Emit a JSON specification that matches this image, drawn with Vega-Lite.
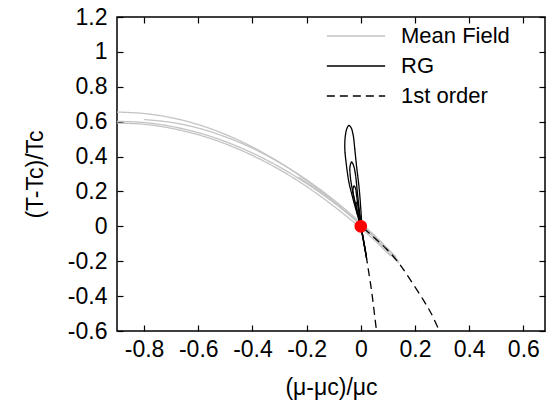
{
  "$schema": "https://vega.github.io/schema/vega-lite/v6.json",
  "width": 428,
  "height": 314,
  "autosize": {"type": "none"},
  "padding": {"left": 117, "top": 17, "right": 1, "bottom": 70},
  "config": {
    "view": {"stroke": "#000000", "strokeWidth": 1.5},
    "font": "Liberation Sans",
    "axis": {
      "grid": false,
      "domain": false,
      "tickColor": "#000000",
      "tickWidth": 1.2,
      "tickSize": -6,
      "labelColor": "#000000",
      "labelFont": "Liberation Sans",
      "labelFontSize": 23,
      "labelFontWeight": "normal",
      "titleFont": "Liberation Sans",
      "titleFontSize": 23,
      "titleFontWeight": "normal",
      "titleColor": "#000000"
    },
    "legend": {
      "orient": "none",
      "legendX": 209,
      "legendY": 4,
      "title": null,
      "symbolType": "stroke",
      "symbolSize": 3400,
      "symbolStrokeWidth": 1.3,
      "clipHeight": 30,
      "labelFont": "Liberation Sans",
      "labelFontSize": 22,
      "labelColor": "#000000",
      "labelOffset": 15,
      "padding": 0,
      "rowPadding": 0
    }
  },
  "datasets": {
    "curves": [
      {"curve": "A", "series": "Mean Field", "i": 0, "x": -0.9, "y": 0.655},
      {"curve": "A", "series": "Mean Field", "i": 1, "x": -0.8, "y": 0.647},
      {"curve": "A", "series": "Mean Field", "i": 2, "x": -0.7, "y": 0.623},
      {"curve": "A", "series": "Mean Field", "i": 3, "x": -0.6, "y": 0.583},
      {"curve": "A", "series": "Mean Field", "i": 4, "x": -0.5, "y": 0.527},
      {"curve": "A", "series": "Mean Field", "i": 5, "x": -0.4, "y": 0.455},
      {"curve": "A", "series": "Mean Field", "i": 6, "x": -0.3, "y": 0.367},
      {"curve": "A", "series": "Mean Field", "i": 7, "x": -0.2, "y": 0.263},
      {"curve": "A", "series": "Mean Field", "i": 8, "x": -0.1, "y": 0.143},
      {"curve": "A", "series": "Mean Field", "i": 9, "x": 0.0, "y": 0.007},
      {"curve": "A", "series": "Mean Field", "i": 10, "x": 0.07, "y": -0.098},
      {"curve": "A", "series": "Mean Field", "i": 11, "x": 0.14, "y": -0.21},
      {"curve": "B", "series": "Mean Field", "i": 0, "x": -0.9, "y": 0.602},
      {"curve": "B", "series": "Mean Field", "i": 1, "x": -0.8, "y": 0.595},
      {"curve": "B", "series": "Mean Field", "i": 2, "x": -0.7, "y": 0.573},
      {"curve": "B", "series": "Mean Field", "i": 3, "x": -0.6, "y": 0.537},
      {"curve": "B", "series": "Mean Field", "i": 4, "x": -0.5, "y": 0.486},
      {"curve": "B", "series": "Mean Field", "i": 5, "x": -0.4, "y": 0.42},
      {"curve": "B", "series": "Mean Field", "i": 6, "x": -0.3, "y": 0.34},
      {"curve": "B", "series": "Mean Field", "i": 7, "x": -0.2, "y": 0.245},
      {"curve": "B", "series": "Mean Field", "i": 8, "x": -0.1, "y": 0.136},
      {"curve": "B", "series": "Mean Field", "i": 9, "x": 0.0, "y": 0.012},
      {"curve": "B", "series": "Mean Field", "i": 10, "x": 0.06, "y": -0.069},
      {"curve": "B", "series": "Mean Field", "i": 11, "x": 0.13, "y": -0.175},
      {"curve": "C", "series": "Mean Field", "i": 0, "x": -0.9, "y": 0.592},
      {"curve": "C", "series": "Mean Field", "i": 1, "x": -0.8, "y": 0.585},
      {"curve": "C", "series": "Mean Field", "i": 2, "x": -0.7, "y": 0.562},
      {"curve": "C", "series": "Mean Field", "i": 3, "x": -0.6, "y": 0.525},
      {"curve": "C", "series": "Mean Field", "i": 4, "x": -0.5, "y": 0.473},
      {"curve": "C", "series": "Mean Field", "i": 5, "x": -0.4, "y": 0.406},
      {"curve": "C", "series": "Mean Field", "i": 6, "x": -0.3, "y": 0.325},
      {"curve": "C", "series": "Mean Field", "i": 7, "x": -0.2, "y": 0.228},
      {"curve": "C", "series": "Mean Field", "i": 8, "x": -0.1, "y": 0.116},
      {"curve": "C", "series": "Mean Field", "i": 9, "x": 0.0, "y": -0.01},
      {"curve": "C", "series": "Mean Field", "i": 10, "x": 0.05, "y": -0.079},
      {"curve": "C", "series": "Mean Field", "i": 11, "x": 0.11, "y": -0.17},
      {"curve": "D", "series": "Mean Field", "i": 0, "x": -0.8, "y": 0.612},
      {"curve": "D", "series": "Mean Field", "i": 1, "x": -0.7, "y": 0.596},
      {"curve": "D", "series": "Mean Field", "i": 2, "x": -0.6, "y": 0.563},
      {"curve": "D", "series": "Mean Field", "i": 3, "x": -0.5, "y": 0.513},
      {"curve": "D", "series": "Mean Field", "i": 4, "x": -0.4, "y": 0.448},
      {"curve": "D", "series": "Mean Field", "i": 5, "x": -0.3, "y": 0.365},
      {"curve": "D", "series": "Mean Field", "i": 6, "x": -0.2, "y": 0.267},
      {"curve": "D", "series": "Mean Field", "i": 7, "x": -0.1, "y": 0.152},
      {"curve": "D", "series": "Mean Field", "i": 8, "x": 0.0, "y": 0.02},
      {"curve": "D", "series": "Mean Field", "i": 9, "x": 0.065, "y": -0.074},
      {"curve": "D", "series": "Mean Field", "i": 10, "x": 0.14, "y": -0.2},
      {"curve": "E", "series": "Mean Field", "i": 0, "x": -0.23, "y": 0.283},
      {"curve": "E", "series": "Mean Field", "i": 1, "x": -0.15, "y": 0.199},
      {"curve": "E", "series": "Mean Field", "i": 2, "x": -0.1, "y": 0.141},
      {"curve": "E", "series": "Mean Field", "i": 3, "x": -0.05, "y": 0.076},
      {"curve": "E", "series": "Mean Field", "i": 4, "x": 0.0, "y": 0.008},
      {"curve": "E", "series": "Mean Field", "i": 5, "x": 0.04, "y": -0.049},
      {"curve": "E", "series": "Mean Field", "i": 6, "x": 0.1, "y": -0.14},
      {"curve": "L1", "series": "RG", "i": 0, "x": 0.021, "y": -0.18},
      {"curve": "L1", "series": "RG", "i": 1, "x": 0.01, "y": -0.08},
      {"curve": "L1", "series": "RG", "i": 2, "x": 0.0, "y": 0.0},
      {"curve": "L1", "series": "RG", "i": 3, "x": -0.015, "y": 0.08},
      {"curve": "L1", "series": "RG", "i": 4, "x": -0.03, "y": 0.165},
      {"curve": "L1", "series": "RG", "i": 5, "x": -0.044, "y": 0.254},
      {"curve": "L1", "series": "RG", "i": 6, "x": -0.053, "y": 0.35},
      {"curve": "L1", "series": "RG", "i": 7, "x": -0.059, "y": 0.445},
      {"curve": "L1", "series": "RG", "i": 8, "x": -0.057, "y": 0.52},
      {"curve": "L1", "series": "RG", "i": 9, "x": -0.051, "y": 0.562},
      {"curve": "L1", "series": "RG", "i": 10, "x": -0.044, "y": 0.578},
      {"curve": "L1", "series": "RG", "i": 11, "x": -0.036, "y": 0.566},
      {"curve": "L1", "series": "RG", "i": 12, "x": -0.028, "y": 0.522},
      {"curve": "L1", "series": "RG", "i": 13, "x": -0.022, "y": 0.44},
      {"curve": "L1", "series": "RG", "i": 14, "x": -0.016, "y": 0.35},
      {"curve": "L1", "series": "RG", "i": 15, "x": -0.006, "y": 0.216},
      {"curve": "L1", "series": "RG", "i": 16, "x": 0.0, "y": 0.1},
      {"curve": "L1", "series": "RG", "i": 17, "x": 0.004, "y": 0.0},
      {"curve": "L2", "series": "RG", "i": 0, "x": 0.02, "y": -0.17},
      {"curve": "L2", "series": "RG", "i": 1, "x": 0.01, "y": -0.08},
      {"curve": "L2", "series": "RG", "i": 2, "x": 0.0, "y": 0.0},
      {"curve": "L2", "series": "RG", "i": 3, "x": -0.015, "y": 0.1},
      {"curve": "L2", "series": "RG", "i": 4, "x": -0.03, "y": 0.2},
      {"curve": "L2", "series": "RG", "i": 5, "x": -0.039, "y": 0.29},
      {"curve": "L2", "series": "RG", "i": 6, "x": -0.04, "y": 0.34},
      {"curve": "L2", "series": "RG", "i": 7, "x": -0.034, "y": 0.369},
      {"curve": "L2", "series": "RG", "i": 8, "x": -0.027, "y": 0.35},
      {"curve": "L2", "series": "RG", "i": 9, "x": -0.02, "y": 0.3},
      {"curve": "L2", "series": "RG", "i": 10, "x": -0.013, "y": 0.2},
      {"curve": "L2", "series": "RG", "i": 11, "x": -0.006, "y": 0.1},
      {"curve": "L2", "series": "RG", "i": 12, "x": 0.002, "y": 0.0},
      {"curve": "L3", "series": "RG", "i": 0, "x": 0.022, "y": -0.19},
      {"curve": "L3", "series": "RG", "i": 1, "x": 0.01, "y": -0.08},
      {"curve": "L3", "series": "RG", "i": 2, "x": 0.0, "y": 0.0},
      {"curve": "L3", "series": "RG", "i": 3, "x": -0.014, "y": 0.08},
      {"curve": "L3", "series": "RG", "i": 4, "x": -0.026, "y": 0.17},
      {"curve": "L3", "series": "RG", "i": 5, "x": -0.029, "y": 0.21},
      {"curve": "L3", "series": "RG", "i": 6, "x": -0.025, "y": 0.232},
      {"curve": "L3", "series": "RG", "i": 7, "x": -0.02, "y": 0.22},
      {"curve": "L3", "series": "RG", "i": 8, "x": -0.015, "y": 0.17},
      {"curve": "L3", "series": "RG", "i": 9, "x": -0.009, "y": 0.1},
      {"curve": "L3", "series": "RG", "i": 10, "x": 0.0, "y": 0.02},
      {"curve": "L4", "series": "RG", "i": 0, "x": 0.019, "y": -0.16},
      {"curve": "L4", "series": "RG", "i": 1, "x": 0.008, "y": -0.07},
      {"curve": "L4", "series": "RG", "i": 2, "x": -0.004, "y": 0.03},
      {"curve": "L4", "series": "RG", "i": 3, "x": -0.015, "y": 0.1},
      {"curve": "L4", "series": "RG", "i": 4, "x": -0.017, "y": 0.13},
      {"curve": "L4", "series": "RG", "i": 5, "x": -0.012, "y": 0.14},
      {"curve": "L4", "series": "RG", "i": 6, "x": -0.008, "y": 0.1},
      {"curve": "L4", "series": "RG", "i": 7, "x": 0.0, "y": 0.02},
      {"curve": "MF1", "series": "1st order", "i": 0, "x": 0.01, "y": -0.01},
      {"curve": "MF1", "series": "1st order", "i": 1, "x": 0.05, "y": -0.065},
      {"curve": "MF1", "series": "1st order", "i": 2, "x": 0.095, "y": -0.13},
      {"curve": "MF1", "series": "1st order", "i": 3, "x": 0.14, "y": -0.21},
      {"curve": "MF1", "series": "1st order", "i": 4, "x": 0.18, "y": -0.3},
      {"curve": "MF1", "series": "1st order", "i": 5, "x": 0.23, "y": -0.42},
      {"curve": "MF1", "series": "1st order", "i": 6, "x": 0.26, "y": -0.5},
      {"curve": "MF1", "series": "1st order", "i": 7, "x": 0.29, "y": -0.6},
      {"curve": "RG1", "series": "1st order", "i": 0, "x": 0.003, "y": -0.02},
      {"curve": "RG1", "series": "1st order", "i": 1, "x": 0.012, "y": -0.1},
      {"curve": "RG1", "series": "1st order", "i": 2, "x": 0.021, "y": -0.18},
      {"curve": "RG1", "series": "1st order", "i": 3, "x": 0.029, "y": -0.26},
      {"curve": "RG1", "series": "1st order", "i": 4, "x": 0.037, "y": -0.34},
      {"curve": "RG1", "series": "1st order", "i": 5, "x": 0.044, "y": -0.42},
      {"curve": "RG1", "series": "1st order", "i": 6, "x": 0.051, "y": -0.51},
      {"curve": "RG1", "series": "1st order", "i": 7, "x": 0.058, "y": -0.6}
    ],
    "dot": [{"x": 0, "y": 0}]
  },
  "layer": [
    {
      "data": {"name": "curves"},
      "mark": {"type": "line", "clip": true, "strokeWidth": 1.3, "interpolate": "catmull-rom"},
      "encoding": {
        "x": {
          "field": "x", "type": "quantitative",
          "scale": {"domain": [-0.9, 0.68], "nice": false, "zero": false},
          "axis": {"orient": "bottom", "values": [-0.8, -0.6, -0.4, -0.2, 0, 0.2, 0.4, 0.6], "labelExpr": "'' + datum.value", "labelPadding": 13, "title": "(μ-μc)/μc", "titlePadding": 15}
        },
        "y": {
          "field": "y", "type": "quantitative",
          "scale": {"domain": [-0.6, 1.2], "nice": false, "zero": false},
          "axis": {"orient": "left", "values": [-0.6, -0.4, -0.2, 0, 0.2, 0.4, 0.6, 0.8, 1, 1.2], "labelExpr": "'' + datum.value", "labelPadding": 16, "title": "(T-Tc)/Tc", "titlePadding": 20}
        },
        "detail": {"field": "curve"},
        "order": {"field": "i", "type": "quantitative"},
        "color": {
          "field": "series", "type": "nominal",
          "scale": {"domain": ["Mean Field", "RG", "1st order"], "range": ["#c4c4c4", "#000000", "#000000"]}
        },
        "strokeDash": {
          "field": "series", "type": "nominal",
          "scale": {"domain": ["Mean Field", "RG", "1st order"], "range": [[1, 0], [1, 0], [8, 5]]}
        }
      }
    },
    {
      "data": {"name": "dot"},
      "mark": {"type": "circle", "size": 160, "color": "#ff0000", "opacity": 1},
      "encoding": {
        "x": {
          "field": "x", "type": "quantitative",
          "scale": {"domain": [-0.9, 0.68], "nice": false, "zero": false},
          "axis": {"orient": "top", "values": [-0.8, -0.6, -0.4, -0.2, 0, 0.2, 0.4, 0.6], "labels": false, "title": null}
        },
        "y": {
          "field": "y", "type": "quantitative",
          "scale": {"domain": [-0.6, 1.2], "nice": false, "zero": false},
          "axis": {"orient": "right", "values": [-0.6, -0.4, -0.2, 0, 0.2, 0.4, 0.6, 0.8, 1, 1.2], "labels": false, "title": null}
        }
      }
    }
  ],
  "resolve": {"scale": {"x": "independent", "y": "independent"}, "axis": {"x": "independent", "y": "independent"}}
}
